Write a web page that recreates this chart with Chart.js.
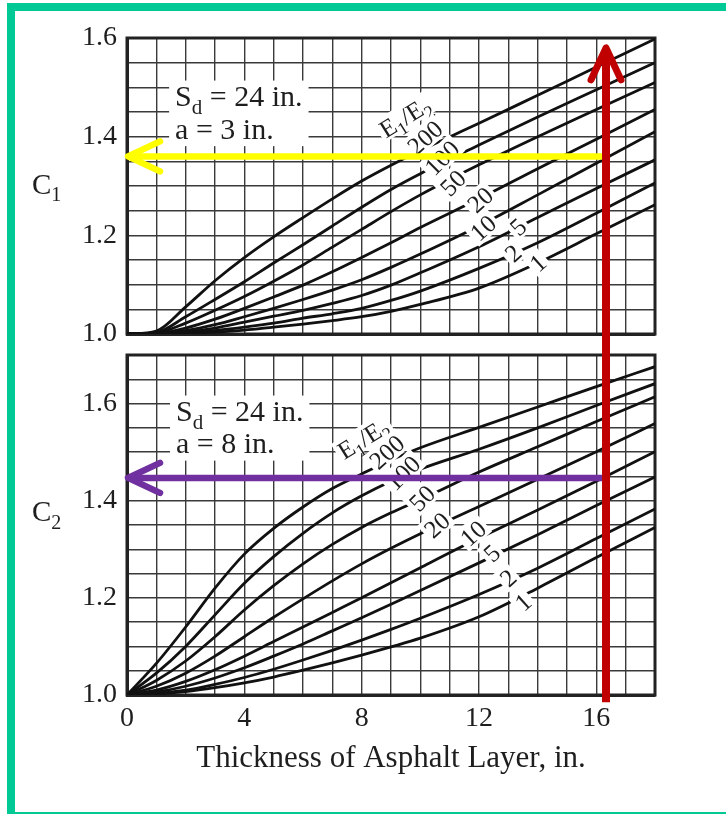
<!DOCTYPE html>
<html>
<head>
<meta charset="utf-8">
<script src="https://cdn.jsdelivr.net/npm/chart.js@4.4.1/dist/chart.umd.min.js"></script>
<style>
  html, body { margin: 0; padding: 0; background: #fff; }
  #page { position: relative; width: 726px; height: 814px; overflow: hidden; background: #fff; }
  #page canvas { position: absolute; left: 0; top: 0; }
  #frame { position: absolute; left: 7px; top: 3px; width: 740px; height: 817px; border: 8px solid #00c995; box-sizing: border-box; }
</style>
</head>
<body>
<div id="page">
  <canvas id="c1" width="726" height="814"></canvas>
  <canvas id="c2" width="726" height="814"></canvas>
  <div id="frame"></div>
</div>
<script>
// thickness of asphalt layer, in.
const THICKNESS = [0, 1, 2, 3, 4, 5, 6, 7, 8, 9, 10, 12, 14, 16, 18];
const RATIOS = ["200", "100", "50", "20", "10", "5", "2", "1"];

// C1 (Sd = 24 in., a = 3 in.)
const C1_200 = [1.000, 1.006, 1.055, 1.108, 1.155, 1.197, 1.236, 1.274, 1.310, 1.342, 1.372, 1.427, 1.484, 1.541, 1.598];
const C1_100 = [1.000, 1.003, 1.035, 1.070, 1.106, 1.144, 1.181, 1.219, 1.257, 1.293, 1.325, 1.383, 1.440, 1.495, 1.550];
const C1_50  = [1.000, 1.002, 1.022, 1.048, 1.076, 1.107, 1.140, 1.176, 1.212, 1.248, 1.282, 1.343, 1.400, 1.455, 1.510];
const C1_20  = [1.000, 1.001, 1.012, 1.030, 1.052, 1.075, 1.099, 1.126, 1.155, 1.185, 1.216, 1.274, 1.335, 1.395, 1.455];
const C1_10  = [1.000, 1.000, 1.007, 1.019, 1.035, 1.052, 1.070, 1.089, 1.110, 1.135, 1.162, 1.219, 1.282, 1.346, 1.410];
const C1_5   = [1.000, 1.000, 1.004, 1.012, 1.024, 1.036, 1.048, 1.062, 1.078, 1.099, 1.124, 1.177, 1.236, 1.295, 1.353];
const C1_2   = [1.000, 1.000, 1.002, 1.007, 1.014, 1.022, 1.032, 1.041, 1.052, 1.068, 1.087, 1.133, 1.185, 1.245, 1.306];
const C1_1   = [1.000, 1.000, 1.001, 1.004, 1.008, 1.014, 1.020, 1.027, 1.035, 1.046, 1.060, 1.093, 1.144, 1.203, 1.262];

// C2 (Sd = 24 in., a = 8 in.)
const C2_200 = [1.000, 1.065, 1.140, 1.220, 1.290, 1.343, 1.387, 1.425, 1.455, 1.484, 1.509, 1.551, 1.593, 1.635, 1.676];
const C2_100 = [1.000, 1.045, 1.100, 1.165, 1.230, 1.285, 1.333, 1.375, 1.410, 1.440, 1.465, 1.506, 1.550, 1.596, 1.641];
const C2_50  = [1.000, 1.030, 1.070, 1.120, 1.175, 1.225, 1.270, 1.310, 1.345, 1.375, 1.402, 1.459, 1.511, 1.563, 1.614];
const C2_20  = [1.000, 1.018, 1.045, 1.080, 1.120, 1.160, 1.198, 1.235, 1.270, 1.302, 1.332, 1.388, 1.444, 1.501, 1.559];
const C2_10  = [1.000, 1.010, 1.028, 1.052, 1.080, 1.110, 1.140, 1.170, 1.200, 1.231, 1.262, 1.323, 1.381, 1.440, 1.501];
const C2_5   = [1.000, 1.006, 1.018, 1.035, 1.056, 1.080, 1.105, 1.132, 1.159, 1.187, 1.215, 1.272, 1.330, 1.390, 1.449];
const C2_2   = [1.000, 1.003, 1.010, 1.022, 1.036, 1.053, 1.072, 1.092, 1.113, 1.135, 1.158, 1.207, 1.261, 1.322, 1.383];
const C2_1   = [1.000, 1.002, 1.007, 1.015, 1.025, 1.037, 1.051, 1.066, 1.082, 1.099, 1.117, 1.161, 1.220, 1.283, 1.345];

// reading shown by the arrows
const READ_X = 16.33;
const READ_C1 = 1.36;
const READ_C2 = 1.447;

const FONT = "'Liberation Serif', 'Times New Roman', serif";
const INK = "#1e1e1e";
const GRID = "#3a3a3a";
const charts = {};

// text runs: [text, isSubscript]
function runFont(size, sub) { return (sub ? Math.round(size * 0.7) : size) + "px " + FONT; }
function runsWidth(ctx, runs, size) {
  let w = 0;
  runs.forEach(([t, sub]) => { ctx.font = runFont(size, sub); w += ctx.measureText(t).width; });
  return w;
}
function drawRuns(ctx, runs, size, x, y) {
  runs.forEach(([t, sub]) => {
    ctx.font = runFont(size, sub);
    ctx.fillText(t, x, sub ? y + size * 0.25 : y);
    x += ctx.measureText(t).width;
  });
  return x;
}

const notes = {
  id: "notes",
  beforeDatasetsDraw(chart, args, o) {
    const { ctx, chartArea: a, scales: { x, y } } = chart;
    ctx.save();
    ctx.fillStyle = INK;
    ctx.textBaseline = "alphabetic";
    ctx.textAlign = "left";
    // axis caption C1 / C2
    const cy = y.getPixelForValue(o.captionAt);
    drawRuns(ctx, o.caption, 29, a.left - 95, cy + 10);
    // parameter block with white backing
    const fs = 30;
    const bx = x.getPixelForValue(o.block.x);
    const b1 = y.getPixelForValue(o.block.y[0]);
    const b2 = y.getPixelForValue(o.block.y[1]);
    const w = Math.max(runsWidth(ctx, o.block.lines[0], fs), runsWidth(ctx, o.block.lines[1], fs));
    ctx.fillStyle = "#fff";
    ctx.fillRect(bx - 6, b1 - fs * 0.85, w + 12, b2 - b1 + fs * 1.1);
    ctx.fillStyle = INK;
    drawRuns(ctx, o.block.lines[0], fs, bx, b1);
    drawRuns(ctx, o.block.lines[1], fs, bx, b2);
    // plot frame
    ctx.lineWidth = 3;
    ctx.strokeStyle = "#222";
    ctx.strokeRect(a.left, a.top, a.right - a.left, a.bottom - a.top);
    ctx.restore();
  },
  afterDatasetsDraw(chart, args, o) {
    const { ctx, scales: { x, y } } = chart;
    const size = 25;
    o.tags.forEach(tag => {
      const runs = Array.isArray(tag.t) ? tag.t : [[tag.t, false]];
      ctx.save();
      ctx.translate(x.getPixelForValue(tag.x), y.getPixelForValue(tag.y));
      ctx.rotate(tag.a * Math.PI / 180);
      const w = runsWidth(ctx, runs, size);
      ctx.fillStyle = "#fff";
      ctx.fillRect(-w / 2 - 3, -size * 0.5, w + 6, size * 0.95);
      ctx.fillStyle = INK;
      ctx.textBaseline = "alphabetic";
      ctx.textAlign = "left";
      drawRuns(ctx, runs, size, -w / 2, size * 0.33);
      ctx.restore();
    });
  }
};

function chevron(ctx, tx, ty, dx, dy) {
  // dx, dy: unit direction the arrow points to
  const back = 32, spread = 15;
  ctx.beginPath();
  ctx.moveTo(tx - dx * back - dy * spread, ty - dy * back + dx * spread);
  ctx.lineTo(tx, ty);
  ctx.lineTo(tx - dx * back + dy * spread, ty - dy * back - dx * spread);
  ctx.stroke();
}

const readingArrows = {
  id: "readingArrows",
  afterDraw(chart) {
    const top = charts.c1;
    if (!top) return;
    const { ctx } = chart;
    const xr = chart.scales.x.getPixelForValue(READ_X);
    const tipX = chart.chartArea.left + 1;
    ctx.save();
    ctx.lineJoin = "round";
    ctx.lineWidth = 6.5;
    [[top.scales.y.getPixelForValue(READ_C1), "#ffff00"],
     [chart.scales.y.getPixelForValue(READ_C2), "#7030a0"]].forEach(([py, col]) => {
      ctx.strokeStyle = col;
      ctx.beginPath();
      ctx.lineCap = "butt";
      ctx.moveTo(xr, py);
      ctx.lineTo(tipX + 3, py);
      ctx.stroke();
      ctx.lineCap = "round";
      chevron(ctx, tipX, py, -1, 0);
    });
    const yTop = top.scales.y.getPixelForValue(1.58);
    const yBot = chart.scales.y.getPixelForValue(0.985);
    ctx.strokeStyle = "#c00000";
    ctx.lineWidth = 8;
    ctx.lineCap = "butt";
    ctx.beginPath();
    ctx.moveTo(xr, yBot);
    ctx.lineTo(xr, yTop + 3);
    ctx.stroke();
    ctx.lineCap = "round";
    ctx.lineWidth = 7;
    chevron(ctx, xr, yTop, 0, -1);
    ctx.restore();
  }
};

function curveSets(series) {
  return RATIOS.map((r, i) => ({
    label: "E1/E2 = " + r,
    data: THICKNESS.map((t, k) => ({ x: t, y: series[i][k] })),
    borderColor: "#111",
    borderWidth: 2.8,
    pointRadius: 0,
    fill: false,
    cubicInterpolationMode: "monotone"
  }));
}

function axes(yMax, showX) {
  const tickFont = { family: FONT, size: 28 };
  return {
    x: {
      type: "linear", min: 0, max: 18,
      afterFit: s => { s.height = showX ? 90 : 0; },
      grid: { color: GRID, lineWidth: 1.4, drawTicks: false },
      border: { color: "#222", width: 3 },
      ticks: {
        display: showX, stepSize: 1, autoSkip: false, maxRotation: 0, padding: 7,
        color: INK, font: tickFont,
        callback: v => (v % 4 === 0 && v < 18 ? String(v) : "")
      },
      title: {
        display: showX, text: "Thickness of Asphalt Layer, in.", color: INK,
        font: { family: FONT, size: 31 }, padding: { top: 0, bottom: 8 }
      }
    },
    y: {
      min: 1, max: yMax,
      afterFit: s => { s.width = 127; },
      grid: { color: GRID, lineWidth: 1.4, drawTicks: false },
      border: { color: "#222", width: 3 },
      ticks: {
        stepSize: 0.05, autoSkip: false, padding: 10, color: INK, font: tickFont,
        callback: v => (Math.round(v * 100) % 20 === 0 ? v.toFixed(1) : "")
      }
    }
  };
}

const E12 = [["E", false], ["1", true], ["/", false], ["E", false], ["2", true]];

charts.c1 = new Chart(document.getElementById("c1"), {
  type: "line",
  data: { datasets: curveSets([C1_200, C1_100, C1_50, C1_20, C1_10, C1_5, C1_2, C1_1]) },
  options: {
    responsive: false, animation: false, events: [],
    layout: { padding: { left: 0, top: 38, right: 71, bottom: 480 } },
    scales: axes(1.6, false),
    plugins: {
      legend: { display: false }, tooltip: { enabled: false },
      notes: {
        caption: [["C", false], ["1", true]], captionAt: 1.305,
        block: { x: 1.64, y: [1.462, 1.396],
          lines: [[["S", false], ["d", true], [" = 24 in.", false]], [["a = 3 in.", false]]] },
        tags: [
          { t: E12, x: 9.48, y: 1.440, a: -32 },
          { t: "200", x: 10.16, y: 1.398, a: -42 },
          { t: "100", x: 10.74, y: 1.357, a: -45 },
          { t: "50", x: 11.11, y: 1.306, a: -45 },
          { t: "20", x: 12.04, y: 1.272, a: -42 },
          { t: "10", x: 12.14, y: 1.215, a: -42 },
          { t: "5", x: 13.33, y: 1.217, a: -42 },
          { t: "2", x: 13.16, y: 1.164, a: -42 },
          { t: "1", x: 14.01, y: 1.144, a: -42 }
        ]
      }
    }
  },
  plugins: [notes]
});

charts.c2 = new Chart(document.getElementById("c2"), {
  type: "line",
  data: { datasets: curveSets([C2_200, C2_100, C2_50, C2_20, C2_10, C2_5, C2_2, C2_1]) },
  options: {
    responsive: false, animation: false, events: [],
    layout: { padding: { left: 0, top: 355, right: 71, bottom: 29 } },
    scales: axes(1.7, true),
    plugins: {
      legend: { display: false }, tooltip: { enabled: false },
      notes: {
        caption: [["C", false], ["2", true]], captionAt: 1.378,
        block: { x: 1.67, y: [1.564, 1.498],
          lines: [[["S", false], ["d", true], [" = 24 in.", false]], [["a = 8 in.", false]]] },
        tags: [
          { t: E12, x: 8.06, y: 1.528, a: -32 },
          { t: "200", x: 8.86, y: 1.500, a: -42 },
          { t: "100", x: 9.41, y: 1.457, a: -45 },
          { t: "50", x: 10.06, y: 1.405, a: -45 },
          { t: "20", x: 10.57, y: 1.350, a: -42 },
          { t: "10", x: 11.80, y: 1.333, a: -42 },
          { t: "5", x: 12.44, y: 1.292, a: -42 },
          { t: "2", x: 12.99, y: 1.241, a: -42 },
          { t: "1", x: 13.50, y: 1.191, a: -42 }
        ]
      }
    }
  },
  plugins: [notes, readingArrows]
});
</script>
</body>
</html>
